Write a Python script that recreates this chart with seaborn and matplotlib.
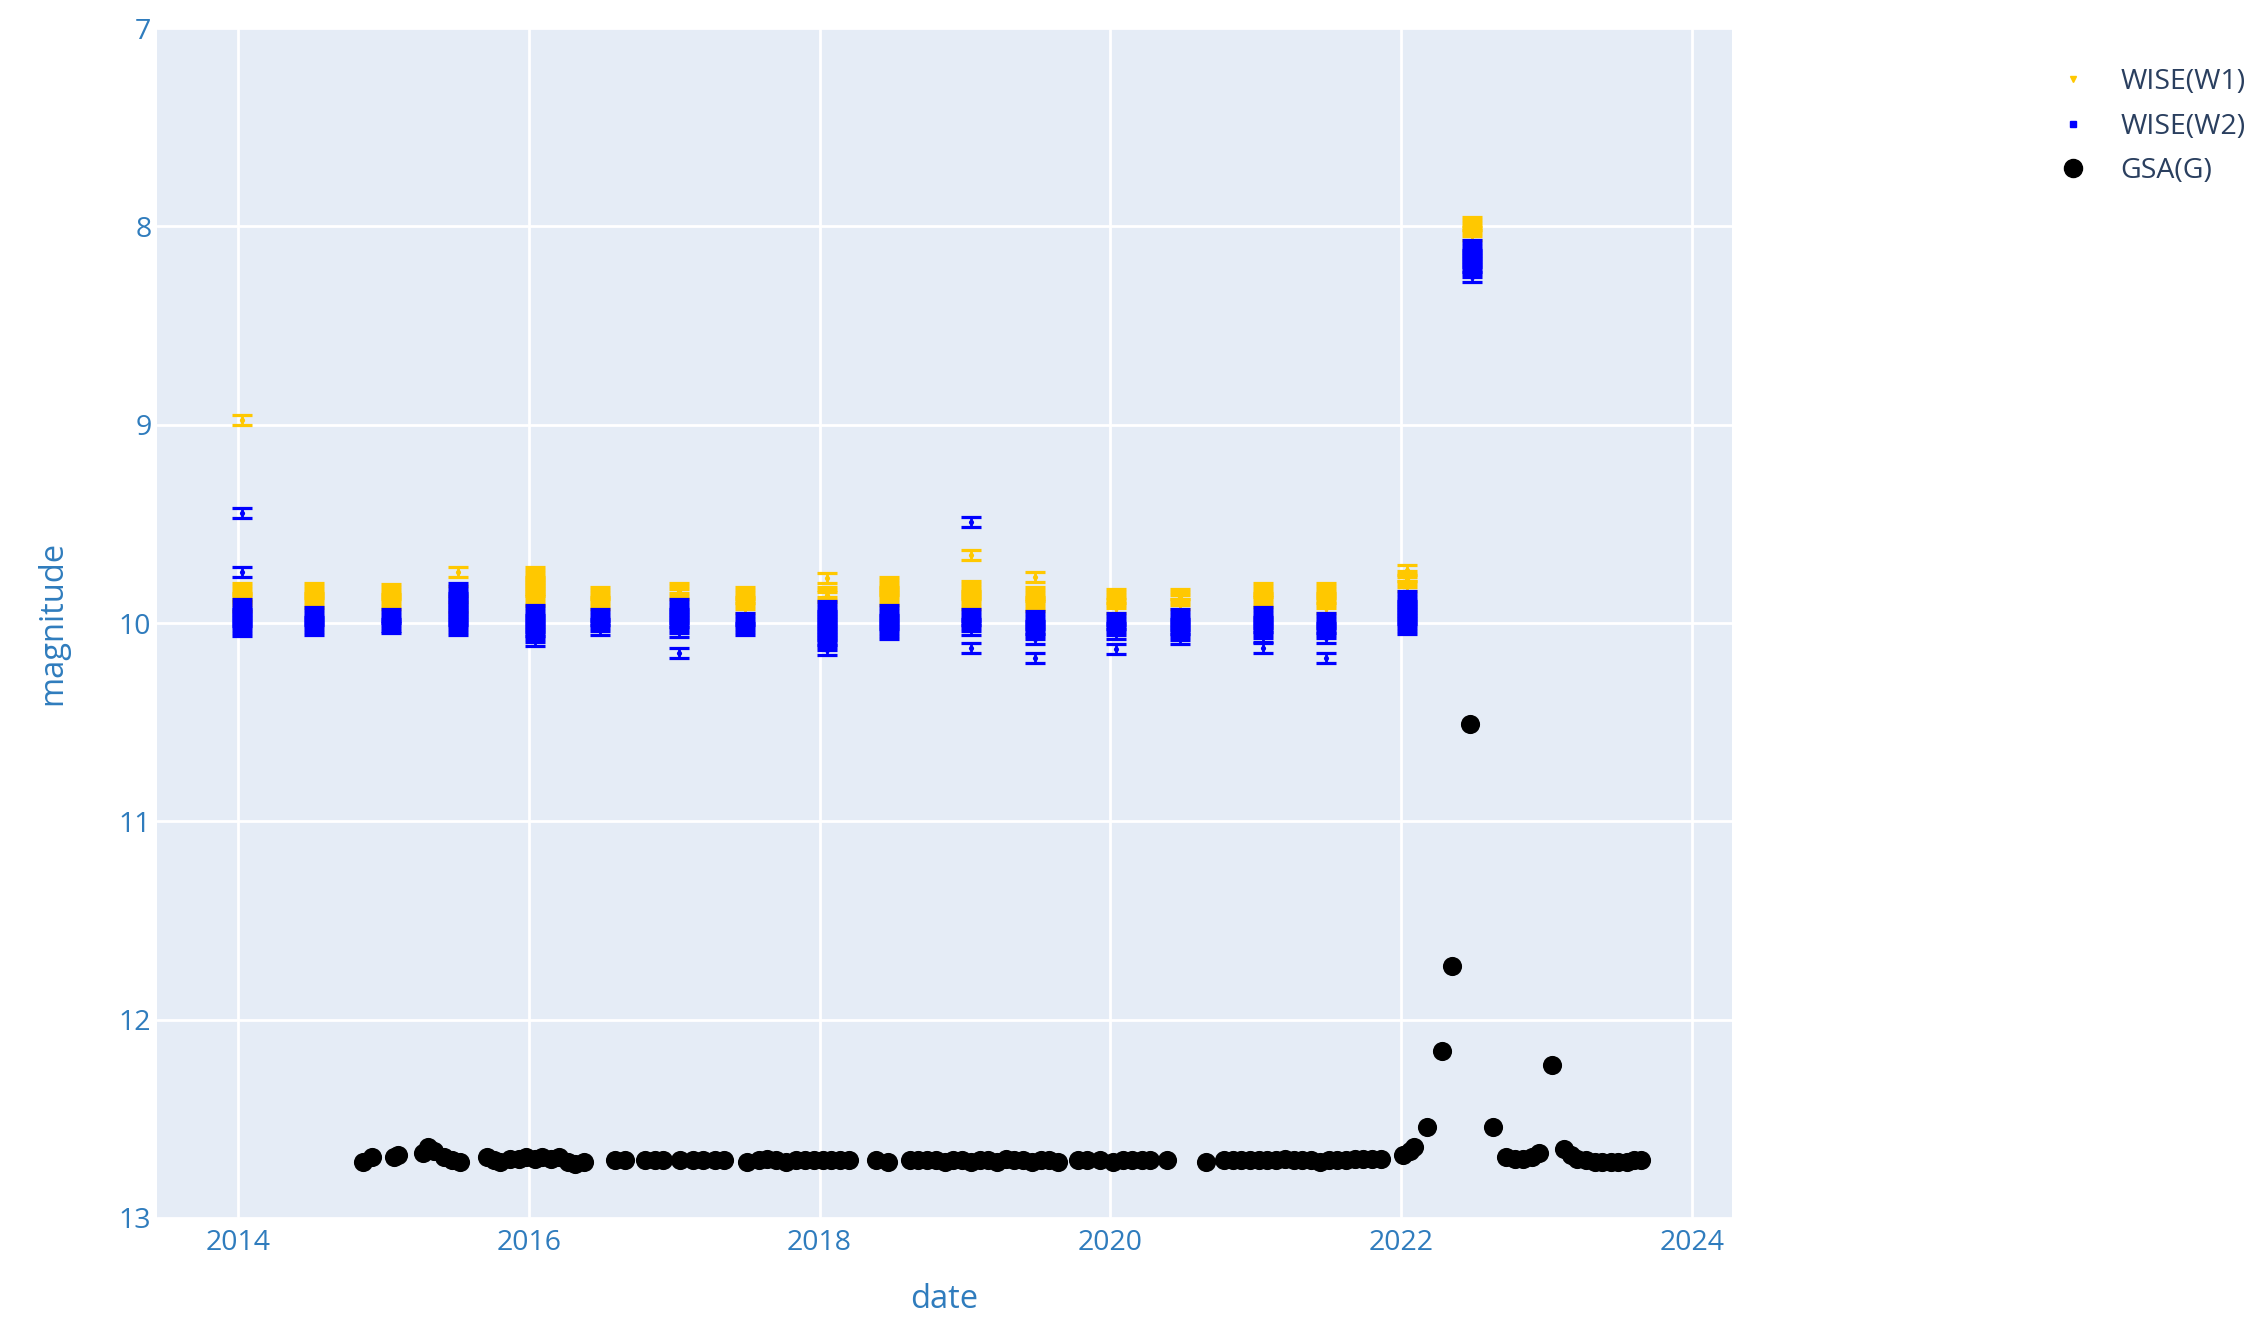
import numpy as np
import pandas as pd
import matplotlib
matplotlib.use("Agg")
import matplotlib.pyplot as plt
import seaborn as sns
from matplotlib.lines import Line2D

# ---------------- data ----------------
EPOCHS = [2014.03, 2014.52, 2015.05, 2015.51, 2016.04, 2016.49, 2017.03, 2017.49,
          2018.05, 2018.48, 2019.04, 2019.48, 2020.04, 2020.48, 2021.05, 2021.48,
          2022.04, 2022.49]

W1_MAGS = [
    [8.975, 9.825, 9.84, 9.855, 9.87, 9.885, 9.915],
    [9.825, 9.84, 9.855, 9.87, 9.885, 9.90],
    [9.83, 9.845, 9.86, 9.875, 9.89, 9.905],
    [9.745, 9.84, 9.92],
    [9.745, 9.76, 9.775, 9.79, 9.805, 9.82, 9.835, 9.85, 9.865, 9.88, 9.89],
    [9.845, 9.86, 9.875, 9.89, 9.905],
    [9.825, 9.84, 9.855],
    [9.845, 9.86, 9.875, 9.89, 9.905, 9.925],
    [9.775, 9.845, 9.86, 9.87],
    [9.795, 9.81, 9.825, 9.84, 9.855, 9.87, 9.885],
    [9.655, 9.815, 9.83, 9.845, 9.86, 9.875, 9.89, 9.905],
    [9.77, 9.845, 9.86, 9.875, 9.89, 9.905, 9.915],
    [9.855, 9.87, 9.885, 9.90, 9.925],
    [9.855, 9.87, 9.885, 9.905],
    [9.825, 9.84, 9.855, 9.87, 9.885, 9.895],
    [9.825, 9.84, 9.855, 9.87, 9.885, 9.90, 9.925],
    [9.735, 9.765, 9.78, 9.795, 9.815],
    [7.98, 7.995, 8.01, 8.025, 8.045],
]

W2_MAGS = [
    [9.445, 9.745, 9.905, 9.92, 9.935, 9.95, 9.965, 9.98, 9.995, 10.01, 10.025, 10.04],
    [9.945, 9.96, 9.975, 9.99, 10.005, 10.02, 10.035],
    [9.955, 9.97, 9.985, 10.0, 10.015, 10.025],
    [9.825, 9.84, 9.855, 9.87, 9.885, 9.90, 9.915, 9.93, 9.945, 9.96, 9.975, 9.99,
     10.005, 10.02, 10.035],
    [9.935, 9.95, 9.965, 9.98, 9.995, 10.01, 10.025, 10.04, 10.055, 10.07, 10.09],
    [9.955, 9.97, 9.985, 10.0, 10.015, 10.035],
    [9.905, 9.92, 9.935, 9.95, 9.965, 9.98, 9.995, 10.01, 10.025, 10.045, 10.15],
    [9.975, 9.99, 10.005, 10.02, 10.035],
    [9.915, 9.93, 9.945, 9.96, 9.975, 9.99, 10.005, 10.02, 10.035, 10.05, 10.065,
     10.08, 10.095, 10.11, 10.135],
    [9.935, 9.95, 9.965, 9.98, 9.995, 10.01, 10.025, 10.04, 10.055],
    [9.49, 9.955, 9.97, 9.985, 10.0, 10.015, 10.035, 10.125],
    [9.965, 9.98, 9.995, 10.01, 10.025, 10.04, 10.055, 10.08, 10.175],
    [9.975, 9.99, 10.005, 10.02, 10.035, 10.055, 10.13],
    [9.955, 9.97, 9.985, 10.0, 10.015, 10.03, 10.045, 10.06, 10.08],
    [9.945, 9.96, 9.975, 9.99, 10.005, 10.02, 10.035, 10.05, 10.07, 10.125],
    [9.975, 9.99, 10.005, 10.02, 10.035, 10.05, 10.075, 10.175],
    [9.865, 9.88, 9.895, 9.91, 9.925, 9.94, 9.955, 9.97, 9.985, 10.0, 10.015, 10.03],
    [8.095, 8.11, 8.125, 8.14, 8.155, 8.17, 8.185, 8.20, 8.215, 8.23, 8.255],
]

W1_ERR = 0.025
W2_ERR = 0.025

GSA_DATE = [2014.86, 2014.92, 2015.07, 2015.10, 2015.27, 2015.31, 2015.35, 2015.42,
            2015.47, 2015.53, 2015.71, 2015.76, 2015.80, 2015.87, 2015.93, 2015.98,
            2016.04, 2016.09, 2016.15, 2016.21, 2016.27, 2016.32, 2016.38, 2016.59,
            2016.66, 2016.80, 2016.87, 2016.92, 2017.04, 2017.13, 2017.20, 2017.28,
            2017.34, 2017.50, 2017.58, 2017.64, 2017.70, 2017.77, 2017.84, 2017.90,
            2017.96, 2018.02, 2018.08, 2018.14, 2018.20, 2018.39, 2018.47, 2018.62,
            2018.68, 2018.74, 2018.80, 2018.86, 2018.92, 2018.98, 2019.04, 2019.10,
            2019.16, 2019.22, 2019.28, 2019.34, 2019.40, 2019.46, 2019.52, 2019.58,
            2019.64, 2019.78, 2019.84, 2019.93, 2020.02, 2020.09, 2020.15, 2020.22,
            2020.27, 2020.39, 2020.66, 2020.78, 2020.84, 2020.90, 2020.96, 2021.02,
            2021.08, 2021.14, 2021.20, 2021.26, 2021.32, 2021.38, 2021.44, 2021.50,
            2021.56, 2021.62, 2021.68, 2021.74, 2021.80, 2021.86, 2022.01, 2022.06,
            2022.09, 2022.18, 2022.28, 2022.35, 2022.47, 2022.63, 2022.72, 2022.78,
            2022.84, 2022.90, 2022.95, 2023.04, 2023.12, 2023.17, 2023.21, 2023.27,
            2023.33, 2023.38, 2023.44, 2023.49, 2023.55, 2023.60, 2023.65]

GSA_MAG = [12.72, 12.69, 12.69, 12.68, 12.67, 12.64, 12.66, 12.69,
           12.71, 12.72, 12.69, 12.71, 12.72, 12.70, 12.70, 12.69,
           12.70, 12.69, 12.70, 12.69, 12.72, 12.73, 12.72, 12.71,
           12.71, 12.71, 12.71, 12.71, 12.71, 12.71, 12.71, 12.71,
           12.71, 12.72, 12.71, 12.70, 12.71, 12.72, 12.71, 12.71,
           12.71, 12.71, 12.71, 12.71, 12.71, 12.71, 12.72, 12.71,
           12.71, 12.71, 12.71, 12.72, 12.71, 12.71, 12.72, 12.71,
           12.71, 12.72, 12.70, 12.71, 12.71, 12.72, 12.71, 12.71,
           12.72, 12.71, 12.71, 12.71, 12.72, 12.71, 12.71, 12.71,
           12.71, 12.71, 12.72, 12.71, 12.71, 12.71, 12.71, 12.71,
           12.71, 12.71, 12.70, 12.71, 12.71, 12.71, 12.72, 12.71,
           12.71, 12.71, 12.70, 12.70, 12.70, 12.70, 12.68, 12.66,
           12.64, 12.54, 12.16, 11.73, 10.51, 12.54, 12.69, 12.70,
           12.70, 12.69, 12.67, 12.23, 12.65, 12.68, 12.70, 12.71,
           12.72, 12.72, 12.72, 12.72, 12.72, 12.71, 12.71]

X_TICKS = [2014, 2016, 2018, 2020, 2022, 2024]
X_TICK_LABELS = ["2014", "2016", "2018", "2020", "2022", "2024"]
Y_TICKS = [7, 8, 9, 10, 11, 12, 13]
LABELS = ["WISE(W1)", "WISE(W2)", "GSA(G)"]
COLORS = ["#FFC800", "#0000FF", "#000000"]

# ---------------- tables ----------------
rows = []
for ep, w1, w2 in zip(EPOCHS, W1_MAGS, W2_MAGS):
    for m in w1:
        rows.append((ep, m, W1_ERR, LABELS[0]))
    for m in w2:
        rows.append((ep, m, W2_ERR, LABELS[1]))
wise = pd.DataFrame(rows, columns=["date", "mag", "err", "band"])
gsa = pd.DataFrame({"date": GSA_DATE, "mag": GSA_MAG})

# ---------------- style ----------------
sns.set_theme(style="white")
plt.rcParams["font.family"] = ["Open Sans", "DejaVu Sans"]
TXT = "#2f7cbd"

W, H = 2263, 1317
fig = plt.figure(figsize=(W / 100, H / 100), dpi=100)
L, R, T, B = 157, 1732, 28, 1218
ax = fig.add_axes([L / W, 1 - B / H, (R - L) / W, (B - T) / H])
ax.set_facecolor("#E5ECF6")

zo = 3
for band, color in zip(LABELS[:2], COLORS[:2]):
    sub = wise[wise["band"] == band]
    ax.errorbar(sub["date"], sub["mag"], yerr=sub["err"], fmt="none",
                ecolor=color, elinewidth=2.0, capsize=7.5, capthick=2.3, zorder=zo)
    sns.scatterplot(data=sub, x="date", y="mag", color=color, s=14, linewidth=0,
                    ax=ax, zorder=zo, legend=False)
    zo += 1

sns.scatterplot(data=gsa, x="date", y="mag", color=COLORS[2], s=190, linewidth=0,
                ax=ax, zorder=6, legend=False)

ax.set_xlim(2013.443, 2024.275)
ax.set_ylim(13, 7)
ax.set_xticks(X_TICKS)
ax.set_xticklabels(X_TICK_LABELS)
ax.set_yticks(Y_TICKS)
ax.grid(True, color="white", linewidth=2.0)
ax.set_axisbelow(True)
for s in ax.spines.values():
    s.set_visible(False)
ax.tick_params(axis="both", length=0, labelsize=20.5, labelcolor=TXT)
ax.tick_params(axis="x", pad=8)
ax.tick_params(axis="y", pad=4)

ax.set_xlabel("date", fontsize=23.5, color=TXT, va="center")
ax.set_ylabel("magnitude", fontsize=23.5, color=TXT, va="center")
ax.xaxis.set_label_coords(0.5, (B - 1300) / (B - T))
ax.yaxis.set_label_coords((53 - L) / (R - L), 0.5)

handles = [
    Line2D([], [], marker="v", color=COLORS[0], linestyle="none", markersize=5),
    Line2D([], [], marker="s", color=COLORS[1], linestyle="none", markersize=4),
    Line2D([], [], marker="o", color=COLORS[2], linestyle="none", markersize=13),
]
leg = fig.legend(handles, LABELS, loc="upper left",
                 bbox_to_anchor=(2045 / W, 1 - 57 / H), frameon=False,
                 fontsize=20.5, labelcolor="#2a3f5f", handlelength=1.2,
                 handletextpad=1.05, labelspacing=0.58, borderaxespad=0)

fig.savefig("out.png", dpi=100)
